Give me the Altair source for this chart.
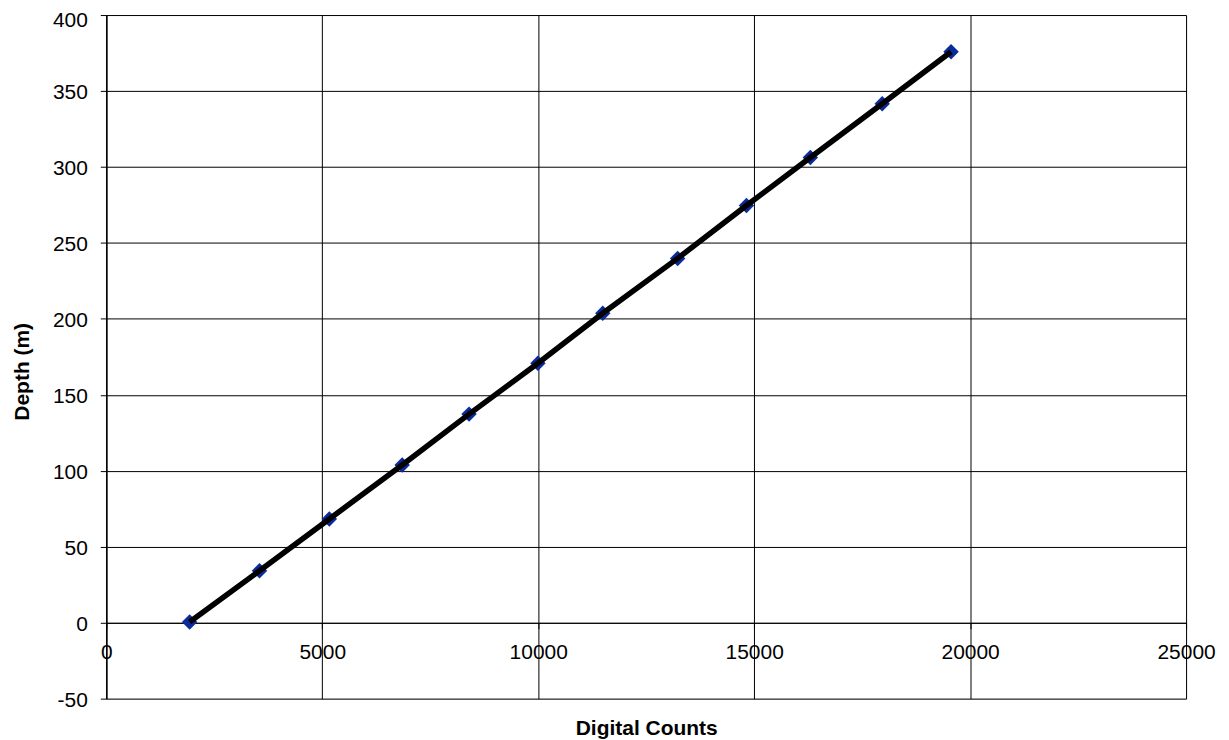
import altair as alt
import pandas as pd

# Data
counts = [1929, 3547, 5164, 6851, 8399, 9993, 11495, 13228, 14822, 16301, 17965, 19559]
depth = [0.5, 34.2, 68.3, 103.8, 137.3, 170.8, 203.7, 239.8, 274.6, 306.2, 341.6, 375.8]
x_ticks = [0, 5000, 10000, 15000, 20000, 25000]
y_ticks = [-50, 0, 50, 100, 150, 200, 250, 300, 350, 400]

df = pd.DataFrame({"counts": counts, "depth": depth})

W = 1082
H = 685
FONT = "Liberation Sans"
LABEL_EXPR = "datum.value < 0 ? '-' + abs(datum.value) : '' + datum.value"

x_enc = alt.X(
    "counts:Q",
    scale=alt.Scale(domain=[0, 25000], nice=False, zero=False),
    axis=alt.Axis(
        values=x_ticks, title="Digital Counts", offset=-76,
        grid=True, gridColor="black", gridWidth=1,
        domainColor="black", domainWidth=1, tickColor="black", tickSize=6, tickWidth=1,
        labelPadding=13, labelFontSize=21, labelFont=FONT, labelColor="black",
        labelOverlap=False, labelFlush=False, labelExpr=LABEL_EXPR,
        titleFont=FONT, titleFontSize=21, titleFontWeight="bold", titleColor="black",
        titleY=112, titleX=W / 2, titleAlign="center", titleBaseline="alphabetic",
    ),
)
y_enc = alt.Y(
    "depth:Q",
    scale=alt.Scale(domain=[-50, 400], nice=False, zero=False),
    axis=alt.Axis(
        values=y_ticks, title="Depth (m)",
        grid=True, gridColor="black", gridWidth=1,
        domainColor="black", domainWidth=1.5, tickColor="black", tickSize=6, tickWidth=1,
        labelPadding=13, labelFontSize=21, labelFont=FONT, labelColor="black",
        labelOverlap=False, labelFlush=False, labelExpr=LABEL_EXPR,
        labelOffset={"condition": {"test": "datum.value == 400", "value": 5}, "value": 2},
        titleFont=FONT, titleFontSize=21, titleFontWeight="bold", titleColor="black",
        titleAngle=-90, titleX=-84, titleY=357, titleAlign="center", titleBaseline="middle",
    ),
)

points = alt.Chart(df).mark_point(
    shape="diamond", filled=True, size=240, color="#0B2A9E", opacity=1
).encode(x=x_enc, y=y_enc)

line = alt.Chart(df).mark_line(color="black", strokeWidth=5.5).encode(
    x="counts:Q", y="depth:Q"
)

chart = (
    alt.layer(points, line)
    .properties(
        width=W,
        height=H,
        autosize=alt.AutoSizeParams(type="none"),
        padding={"left": 98.5, "top": 6.3, "right": 35, "bottom": 45},
        title=alt.Title(
            "Pressure Transducer Response", fontSize=20, fontWeight="bold",
            font=FONT, color="black", offset=2, dx=-47, anchor="middle",
        ),
    )
    .configure_view(stroke="#a0a0a0", strokeWidth=2.5)
    .configure(background="white")
)

chart.save("out.html", embed_options={"renderer": "svg", "actions": False})
